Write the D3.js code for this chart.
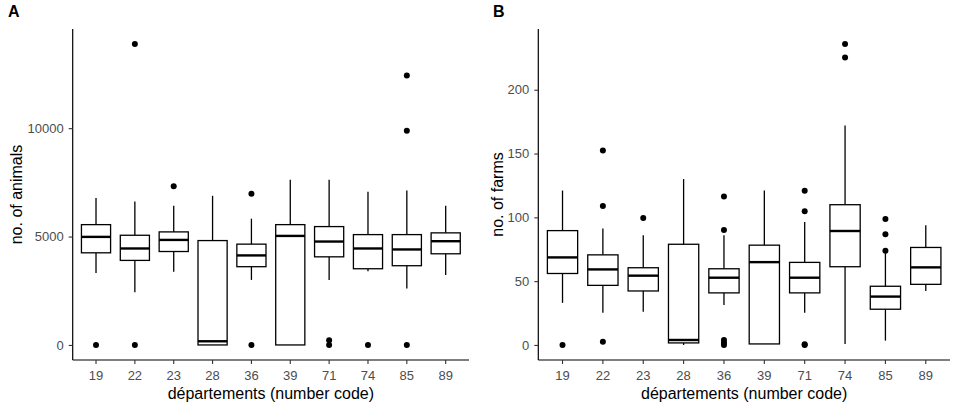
<!DOCTYPE html>
<html>
<head>
  <meta charset="utf-8">
  <title>Boxplots by département</title>
  <script src="https://d3js.org/d3.v7.min.js"></script>
  <style>
    body { margin: 0; background: #fff; }
    text { font-family: "Liberation Sans", Arial, sans-serif; }
  </style>
</head>
<body>
<script>
// data: departments and box statistics [whisker low, Q1, median, Q3, whisker high]
var departements = ["19", "22", "23", "28", "36", "39", "71", "74", "85", "89"];

var animalsBoxes = [
  [3320, 4250, 4985, 5550, 6775],
  [2430, 3900, 4450, 5060, 6620],
  [3380, 4310, 4845, 5215, 6420],
  [0, 0, 170, 4815, 6880],
  [3000, 3610, 4130, 4650, 5825],
  [0, 0, 5030, 5550, 7615],
  [3000, 4065, 4770, 5460, 7615],
  [3395, 3515, 4450, 5090, 7065],
  [2600, 3655, 4405, 5090, 7125],
  [3225, 4205, 4785, 5170, 6420]
];
var animalsOutliers = [
  [0],
  [13880, 0],
  [7325],
  [],
  [6970, 0],
  [],
  [215, 0],
  [0],
  [12430, 9880, 0],
  []
];
var animalsTicks = [0, 5000, 10000];

var farmsBoxes = [
  [33, 56, 68.6, 89.6, 121],
  [25.2, 46.7, 59.2, 70.6, 91.2],
  [26, 42.3, 54.3, 60.5, 86],
  [0, 1.6, 3.9, 78.9, 130],
  [31.4, 40.8, 52.7, 59.7, 86],
  [0.8, 0.8, 64.9, 78.2, 121],
  [25.2, 40.8, 52.7, 64.7, 96.3],
  [0.8, 61.3, 89.3, 109.9, 172],
  [3.4, 28, 37.9, 46, 76],
  [42.3, 47.5, 60.8, 76.4, 93.8]
];
var farmsOutliers = [
  [0],
  [152.4, 108.8, 2.6],
  [99.5],
  [],
  [116.3, 90.1, 3.9, 1.8, 0],
  [],
  [120.8, 104.7, 0.5, 0],
  [235.8, 225.2],
  [98.7, 86.7, 73.8],
  []
];
var farmsTicks = [0, 50, 100, 150, 200];

var W = 957, H = 414;
var svg = d3.select("body").append("svg").attr("width", W).attr("height", H);

function panel(opt) {
  var g = svg.append("g");
  var allVals = [];
  opt.boxes.forEach(function(b) { allVals = allVals.concat(b); });
  opt.outliers.forEach(function(o) { allVals = allVals.concat(o); });
  var lo = d3.min(allVals), hi = d3.max(allVals), pad = (hi - lo) * 0.05;

  var y = d3.scaleLinear().domain([lo - pad, hi + pad]).range([opt.bottom, opt.top]);
  var x = d3.scaleBand().domain(departements).range([opt.left, opt.right])
    .paddingInner(0).paddingOuter(0.1);
  var bw = x.bandwidth() * 0.75;
  var cx = function(d) { return x(d) + x.bandwidth() / 2; };

  // boxes
  departements.forEach(function(dep, i) {
    var b = opt.boxes[i], c = cx(dep);
    g.append("line").attr("x1", c).attr("x2", c).attr("y1", y(b[3])).attr("y2", y(b[4]))
      .attr("stroke", "#000").attr("stroke-width", 1.3);
    g.append("line").attr("x1", c).attr("x2", c).attr("y1", y(b[1])).attr("y2", y(b[0]))
      .attr("stroke", "#000").attr("stroke-width", 1.3);
    g.append("rect").attr("x", c - bw / 2).attr("width", bw)
      .attr("y", y(b[3])).attr("height", Math.max(0, y(b[1]) - y(b[3])))
      .attr("fill", "#fff").attr("stroke", "#000").attr("stroke-width", 1.3);
    g.append("line").attr("x1", c - bw / 2).attr("x2", c + bw / 2)
      .attr("y1", y(b[2])).attr("y2", y(b[2]))
      .attr("stroke", "#000").attr("stroke-width", 2.4);
    g.selectAll(null).data(opt.outliers[i]).enter().append("circle")
      .attr("cx", c).attr("cy", function(v) { return y(v); }).attr("r", 3)
      .attr("fill", "#000");
  });

  // axes
  var ya = g.append("g").attr("transform", "translate(" + opt.left + ",0)")
    .call(d3.axisLeft(y).tickValues(opt.ticks).tickFormat(d3.format("d"))
      .tickSize(4).tickPadding(5).tickSizeOuter(0));
  ya.select(".domain").attr("d", "M0," + opt.top + "V" + opt.bottom).attr("stroke", "#000").attr("stroke-width", 1.2);
  var xa = g.append("g").attr("transform", "translate(0," + opt.bottom + ")")
    .call(d3.axisBottom(x).tickSize(4).tickPadding(7).tickSizeOuter(0));
  xa.select(".domain").attr("d", "M" + opt.left + ",0H" + opt.right).attr("stroke", "#000").attr("stroke-width", 1.2);
  g.selectAll(".tick line").attr("stroke", "#333").attr("stroke-width", 1.1);
  g.selectAll(".tick text").attr("fill", "#4d4d4d").style("font-size", "13px")
    .style("font-family", "'Liberation Sans', Arial, sans-serif");

  // titles
  g.append("text").attr("x", (opt.left + opt.right) / 2).attr("y", 399)
    .attr("text-anchor", "middle").style("font-size", "16px").text("départements (number code)");
  g.append("text").attr("transform", "translate(" + opt.ylabX + "," + ((opt.top + opt.bottom) / 2) + ") rotate(-90)")
    .attr("text-anchor", "middle").style("font-size", "16px").text(opt.ylabel);
  g.append("text").attr("x", opt.tagX).attr("y", 17).style("font-size", "16px")
    .style("font-weight", "bold").text(opt.tag);
}

panel({ boxes: animalsBoxes, outliers: animalsOutliers, ticks: animalsTicks,
  left: 72.7, right: 469, top: 29, bottom: 360, ylabel: "no. of animals", ylabX: 22, tag: "A", tagX: 8 });
panel({ boxes: farmsBoxes, outliers: farmsOutliers, ticks: farmsTicks,
  left: 538.3, right: 950, top: 29, bottom: 360, ylabel: "no. of farms", ylabX: 503, tag: "B", tagX: 493 });
</script>
</body>
</html>
